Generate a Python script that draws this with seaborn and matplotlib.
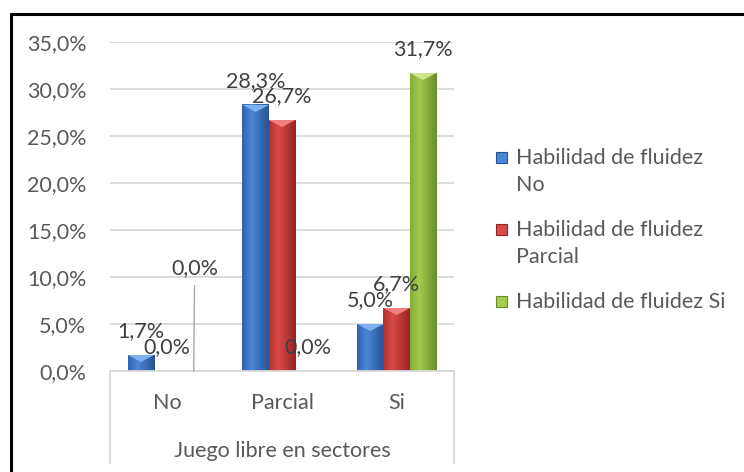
import numpy as np
import pandas as pd
import matplotlib.pyplot as plt
import seaborn as sns
from matplotlib.colors import LinearSegmentedColormap
from matplotlib.patches import Polygon, Rectangle
from matplotlib.lines import Line2D

# data
categories = ['No', 'Parcial', 'Si']
series = ['Habilidad de fluidez No', 'Habilidad de fluidez Parcial', 'Habilidad de fluidez Si']
fluidez_no = [1.7, 28.3, 5.0]
fluidez_parcial = [0.0, 26.7, 6.7]
fluidez_si = [0.0, 0.0, 31.7]
legend_labels = ['Habilidad de fluidez\nNo', 'Habilidad de fluidez\nParcial', 'Habilidad de fluidez Si']
y_ticks = [0, 5, 10, 15, 20, 25, 30, 35]
x_title = 'Juego libre en sectores'

df = pd.DataFrame({
    'sector': categories * 3,
    'serie': np.repeat(series, len(categories)),
    'valor': fluidez_no + fluidez_parcial + fluidez_si,
})

# (left, middle, right, bevel) shades per series, Excel 2007 style
shades = [
    ('#3163ad', '#4a86d8', '#2a5394', '#7db0ee'),
    ('#b5302e', '#d84a48', '#982422', '#f08080'),
    ('#84ab36', '#a3cb50', '#6b8c28', '#cce58a'),
]
text_grey = '#595959'
label_grey = '#404040'
grid_grey = '#d9d9d9'
fs = 15.5

# label moved by hand in the original (series index, category index) -> pixel offset
moved_labels = {(2, 0): (1, 103)}

sns.set_theme(style='white')
plt.rcParams['font.family'] = ['Lato', 'DejaVu Sans']

W, H = 744, 472
fig = plt.figure(figsize=(W / 100, H / 100), dpi=100)
ax = fig.add_axes([110 / W, 101 / H, 344 / W, 329 / H])

sns.barplot(data=df, x='sector', y='valor', hue='serie', order=categories,
            hue_order=series, palette=[s[1] for s in shades], width=0.69,
            saturation=1, legend=False, ax=ax, zorder=2)

ymax = 35
px = ymax / 329  # data units per pixel vertically

# gradient fill and top bevel on each bar
for cont, sh in zip(ax.containers, shades):
    cmap = LinearSegmentedColormap.from_list('bar', [(0, sh[0]), (0.35, sh[1]), (1, sh[2])])
    for bar in cont:
        h = bar.get_height()
        if h <= 0:
            continue
        x0, w = bar.get_x(), bar.get_width()
        ax.imshow(np.linspace(0, 1, 64)[None, :], cmap=cmap, aspect='auto',
                  extent=[x0, x0 + w, 0, h], zorder=2.1, interpolation='bilinear')
        d = min(7 * px, h)
        ax.add_patch(Polygon([(x0, h), (x0 + w, h), (x0 + w / 2, h - d)],
                             closed=True, color=sh[3], lw=0, zorder=2.2))

ax.set_xlim(-0.5, 2.5)
ax.set_ylim(0, ymax)

# data labels
for si, cont in enumerate(ax.containers):
    for ci, bar in enumerate(cont):
        v = bar.get_height()
        txt = f'{v:.1f}%'.replace('.', ',')
        cx = bar.get_x() + bar.get_width() / 2
        if (si, ci) in moved_labels:
            ax.annotate(txt, xy=(cx, v), xytext=moved_labels[(si, ci)],
                        textcoords='offset pixels', ha='center', va='center',
                        fontsize=fs, color=label_grey, zorder=4,
                        arrowprops=dict(arrowstyle='-', color='#a6a6a6', lw=1,
                                        shrinkA=3, shrinkB=0))
        else:
            ax.annotate(txt, xy=(cx, v), xytext=(0, 24), textcoords='offset pixels',
                        ha='center', va='center', fontsize=fs, color=label_grey, zorder=4)

# axes styling
ax.set_yticks(y_ticks)
ax.set_yticklabels([f'{t:.1f}%'.replace('.', ',') for t in y_ticks])
ax.yaxis.grid(True, color=grid_grey, lw=1.3)
ax.set_axisbelow(True)
for side in ['left', 'right', 'top']:
    ax.spines[side].set_visible(False)
ax.spines['bottom'].set_color(grid_grey)
ax.spines['bottom'].set_linewidth(1.3)
ax.tick_params(axis='y', length=0, pad=17, labelsize=fs, labelcolor=text_grey)
ax.tick_params(axis='x', length=0, pad=16, labelsize=fs, labelcolor=text_grey)
ax.set_ylabel('')
ax.set_xlabel(x_title, fontsize=fs, color=text_grey, labelpad=20)

# category table borders below the axis
for xa in [0, 1]:
    ax.add_line(Line2D([xa, xa], [0, -92 / 329], transform=ax.transAxes,
                       color=grid_grey, lw=1.3, clip_on=False))

# legend drawn by hand so the marker sits on the first text line
for i, (lab, sh) in enumerate(zip(legend_labels, shades)):
    ytop = 158 + 72 * i
    fig.add_artist(Rectangle((496 / W, 1 - (ytop + 5) / H), 11 / W, 11 / H,
                             facecolor=sh[1], edgecolor=sh[2], lw=0.8))
    for j, line in enumerate(lab.split('\n')):
        fig.text(516 / W, 1 - (ytop + 27 * j) / H, line, fontsize=fs,
                 color=text_grey, ha='left', va='center')

# black frame on the top and left edges
fig.add_artist(Line2D([11 / W, 11 / W], [0, 1 - 13.5 / H], color='black', lw=2.2))
fig.add_artist(Line2D([11 / W, 1], [1 - 13.5 / H, 1 - 13.5 / H], color='black', lw=2.2))

fig.savefig('out.png', dpi=100)
